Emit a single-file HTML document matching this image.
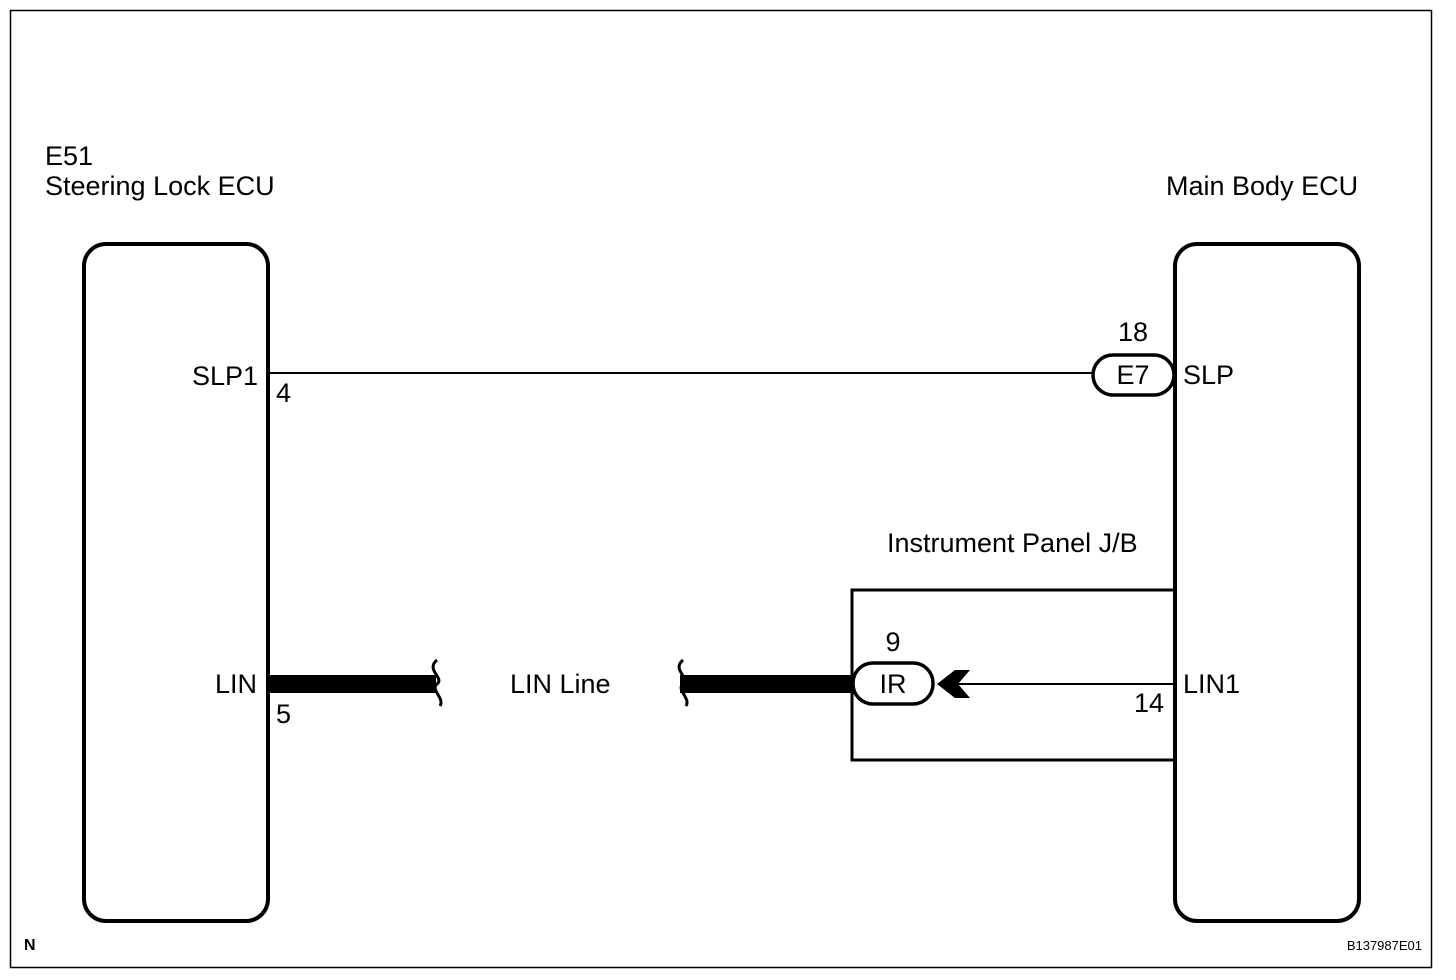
<!DOCTYPE html>
<html><head><meta charset="utf-8"><style>
html,body{margin:0;padding:0;background:#fff;}
svg{display:block;}
text{font-family:"Liberation Sans",Arial,sans-serif;fill:#000;}
</style></head><body>
<svg width="1456" height="980" viewBox="0 0 1456 980" xmlns="http://www.w3.org/2000/svg">
<rect x="10.5" y="10.5" width="1421" height="957" fill="none" stroke="#000" stroke-width="1.5"/>
<text x="45" y="165" font-size="27">E51</text>
<text x="45" y="195" font-size="27">Steering Lock ECU</text>
<text x="1166" y="195" font-size="27">Main Body ECU</text>
<rect x="84" y="244" width="184" height="677" rx="22" fill="none" stroke="#000" stroke-width="4"/>
<rect x="1175" y="244" width="184" height="677" rx="22" fill="none" stroke="#000" stroke-width="4"/>
<line x1="268" y1="373" x2="1094" y2="373" stroke="#000" stroke-width="2"/>
<rect x="1093" y="355" width="81" height="40" rx="20" fill="#fff" stroke="#000" stroke-width="3.5"/>
<text x="1133" y="384" font-size="27" text-anchor="middle">E7</text>
<text x="1133" y="341" font-size="27" text-anchor="middle">18</text>
<text x="1183" y="384" font-size="27">SLP</text>
<text x="258" y="385" font-size="27" text-anchor="end">SLP1</text>
<text x="276" y="402" font-size="27">4</text>
<text x="887" y="552" font-size="27">Instrument Panel J/B</text>
<polyline points="1175,590 852,590 852,760 1175,760" fill="none" stroke="#000" stroke-width="3"/>
<rect x="268" y="675" width="168" height="18" fill="#000"/>
<path d="M437,660 C425,670 445,678 437,684 C430,690 445,698 440,706" fill="none" stroke="#000" stroke-width="3"/>
<rect x="680" y="675" width="172" height="18" fill="#000"/>
<path d="M683,660 C671,670 691,678 683,684 C676,690 691,698 686,706" fill="none" stroke="#000" stroke-width="3"/>
<text x="510" y="693" font-size="27">LIN Line</text>
<rect x="853" y="663" width="80" height="41" rx="20" fill="#fff" stroke="#000" stroke-width="3.5"/>
<text x="893" y="693" font-size="27" text-anchor="middle">IR</text>
<text x="893" y="651" font-size="27" text-anchor="middle">9</text>
<polygon points="937,684 955,670 970,670 958,684 970,698 955,698" fill="#000"/>
<line x1="958" y1="684" x2="1175" y2="684" stroke="#000" stroke-width="2"/>
<text x="1183" y="693" font-size="27">LIN1</text>
<text x="1164" y="712" font-size="27" text-anchor="end">14</text>
<text x="257" y="693" font-size="27" text-anchor="end">LIN</text>
<text x="276" y="723" font-size="27">5</text>
<text x="24" y="950" font-size="16" font-weight="bold">N</text>
<text x="1422" y="950" font-size="13" text-anchor="end">B137987E01</text>
</svg>
</body></html>
